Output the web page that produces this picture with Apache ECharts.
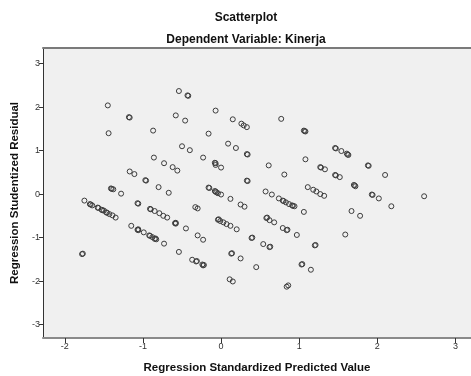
<!DOCTYPE html>
<html>
<head>
<meta charset="utf-8">
<script src="https://cdn.jsdelivr.net/npm/echarts@6/dist/echarts.min.js"></script>
<style>html,body{margin:0;padding:0;background:#fff}#c{width:471px;height:376px}</style>
</head>
<body>
<div id="c"></div>
<script>
// Regression Standardized Predicted Value (x) and Studentized Residual (y)
var predicted = [
 -0.54,-0.43,-0.42,-1.45,-1.18,-1.17,-0.58,-0.46,-1.44,-0.87,-0.50,-0.40,-0.86,-0.73,-0.62,-0.56,-1.17,-1.11,-0.97,-0.96,-0.80,-0.67,-1.41,-1.40,-1.38,-1.28,-1.75,-1.07,-1.06,
 -0.07,0.15,0.26,0.29,0.33,0.77,1.06,1.07,1.08,-0.16,0.09,0.19,0.33,0.34,-0.23,-0.08,-0.07,-0.07,0.00,0.61,1.08,1.27,1.28,1.33,0.81,0.33,0.34,-0.16,-0.15,-0.08,-0.07,-0.06,-0.04,0.00,0.12,0.57,0.65,0.74,0.79,0.80,0.83,0.87,0.91,0.92,0.94,1.11,1.18,1.22,1.27,1.32,
 1.46,1.47,1.54,1.61,1.62,1.63,1.88,1.89,1.46,1.47,1.52,2.10,1.70,1.71,1.72,1.93,1.94,2.02,2.60,
 -1.68,-1.67,-1.65,-1.58,-1.57,-1.53,-1.52,-1.50,-1.47,-1.46,-1.43,-1.39,-1.35,-0.91,-0.90,-0.85,-0.79,-0.74,-0.69,-0.59,-0.58,-0.58,-0.45,-1.15,-1.07,-1.06,-1.06,-0.99,-0.92,-0.91,-0.88,-0.85,-0.84,-0.83,-0.73,-0.54,-0.37,-1.78,-1.77,
 0.25,0.30,1.06,-0.33,-0.30,-0.30,-0.23,-0.04,-0.03,-0.01,0.03,0.07,0.12,0.20,0.39,0.40,0.54,0.62,0.63,0.58,0.59,0.62,0.68,0.79,0.84,0.85,0.97,1.20,1.21,-0.32,-0.31,-0.24,-0.23,-0.22,0.13,0.14,0.25,0.45,1.03,1.04,1.15,0.11,0.15,0.84,0.86,
 2.18,1.67,1.78,1.59
];
var residual = [
 2.37,2.27,2.26,2.04,1.77,1.76,1.81,1.69,1.40,1.46,1.10,1.01,0.84,0.71,0.62,0.54,0.52,0.46,0.32,0.31,0.16,0.03,0.13,0.12,0.11,0.01,-0.15,-0.21,-0.22,
 1.92,1.72,1.62,1.58,1.54,1.73,1.46,1.45,1.44,1.39,1.16,1.06,0.92,0.91,0.84,0.72,0.71,0.67,0.61,0.66,0.80,0.62,0.61,0.57,0.45,0.31,0.30,0.15,0.14,0.07,0.06,0.04,0.02,-0.01,-0.11,0.06,-0.01,-0.10,-0.15,-0.16,-0.19,-0.23,-0.26,-0.27,-0.28,0.16,0.10,0.06,0.00,-0.04,
 1.06,1.05,0.99,0.93,0.91,0.90,0.66,0.65,0.44,0.43,0.39,0.44,0.21,0.20,0.18,-0.01,-0.02,-0.10,-0.05,
 -0.23,-0.24,-0.26,-0.31,-0.32,-0.36,-0.37,-0.38,-0.42,-0.43,-0.46,-0.49,-0.54,-0.34,-0.35,-0.39,-0.44,-0.50,-0.54,-0.67,-0.66,-0.68,-0.79,-0.73,-0.82,-0.81,-0.83,-0.88,-0.95,-0.96,-0.99,-1.03,-1.02,-1.04,-1.14,-1.33,-1.51,-1.38,-1.37,
 -0.24,-0.29,-0.41,-0.30,-0.33,-0.95,-1.05,-0.59,-0.58,-0.62,-0.65,-0.69,-0.73,-0.81,-1.01,-1.00,-1.15,-1.22,-1.21,-0.55,-0.54,-0.60,-0.65,-0.78,-0.83,-0.82,-0.94,-1.18,-1.17,-1.55,-1.54,-1.62,-1.64,-1.63,-1.37,-1.36,-1.48,-1.68,-1.62,-1.61,-1.74,-1.96,-2.01,-2.13,-2.10,
 -0.28,-0.39,-0.50,-0.93
];
var xTicks = [-2, -1, 0, 1, 2, 3];
var yTicks = [-3, -2, -1, 0, 1, 2, 3];

var points = predicted.map(function (v, i) { return [v, residual[i]]; });

var chart = echarts.init(document.getElementById('c'), null, {renderer: 'canvas'});
var font = 'Liberation Sans, Arial, sans-serif';
chart.setOption({
  backgroundColor: '#ffffff',
  animation: false,
  title: [
    {text: 'Scatterplot', left: 241, top: 7, textAlign: 'center',
     textStyle: {fontFamily: font, fontSize: 12, fontWeight: 'bold', color: '#111'}},
    {text: 'Dependent Variable: Kinerja', left: 241, top: 29, textAlign: 'center',
     textStyle: {fontFamily: font, fontSize: 12, fontWeight: 'bold', color: '#111'}}
  ],
  grid: {left: 43, right: 0, top: 48, bottom: 38, show: true, backgroundColor: '#f0f0f0', borderWidth: 0,
    containLabel: false, outerBoundsMode: 'none'},
  xAxis: [{
    type: 'value', min: -2.28, max: 3.2, interval: 1,
    name: 'Regression Standardized Predicted Value', nameLocation: 'middle', nameGap: 24,
    nameTextStyle: {fontFamily: font, fontSize: 11.5, fontWeight: 'bold', color: '#111'},
    axisLine: {show: true, onZero: false, lineStyle: {color: '#8a8a8a', width: 2}},
    axisTick: {show: true, length: 5, lineStyle: {color: '#333', width: 1}, customValues: xTicks},
    axisLabel: {fontFamily: font, fontSize: 9, color: '#333', margin: 4, customValues: xTicks,
      formatter: function (v) { return String(v); }},
    splitLine: {show: false}
  }, {
    type: 'value', position: 'top', min: -2.28, max: 3.2,
    axisLine: {show: true, onZero: false, lineStyle: {color: '#7a7a7a', width: 2}},
    axisTick: {show: false}, axisLabel: {show: false}, splitLine: {show: false}
  }],
  yAxis: {
    type: 'value', min: -3.31, max: 3.36,
    name: 'Regression Studentized Residual', nameLocation: 'middle', nameGap: 15,
    nameTextStyle: {fontFamily: font, fontSize: 11.5, fontWeight: 'bold', color: '#111'},
    axisLine: {show: true, onZero: false, lineStyle: {color: '#333', width: 1}},
    axisTick: {show: true, length: 4, lineStyle: {color: '#333'}, customValues: yTicks},
    axisLabel: {fontFamily: font, fontSize: 9, color: '#333', margin: 3, customValues: yTicks,
      formatter: function (v) { return String(v); }},
    splitLine: {show: false}
  },
  series: [{
    type: 'scatter',
    data: points,
    symbol: 'circle',
    symbolSize: 5,
    itemStyle: {color: 'rgba(0,0,0,0)', borderColor: '#3c3c3c', borderWidth: 1, opacity: 1}
  }]
});
</script>
</body>
</html>
